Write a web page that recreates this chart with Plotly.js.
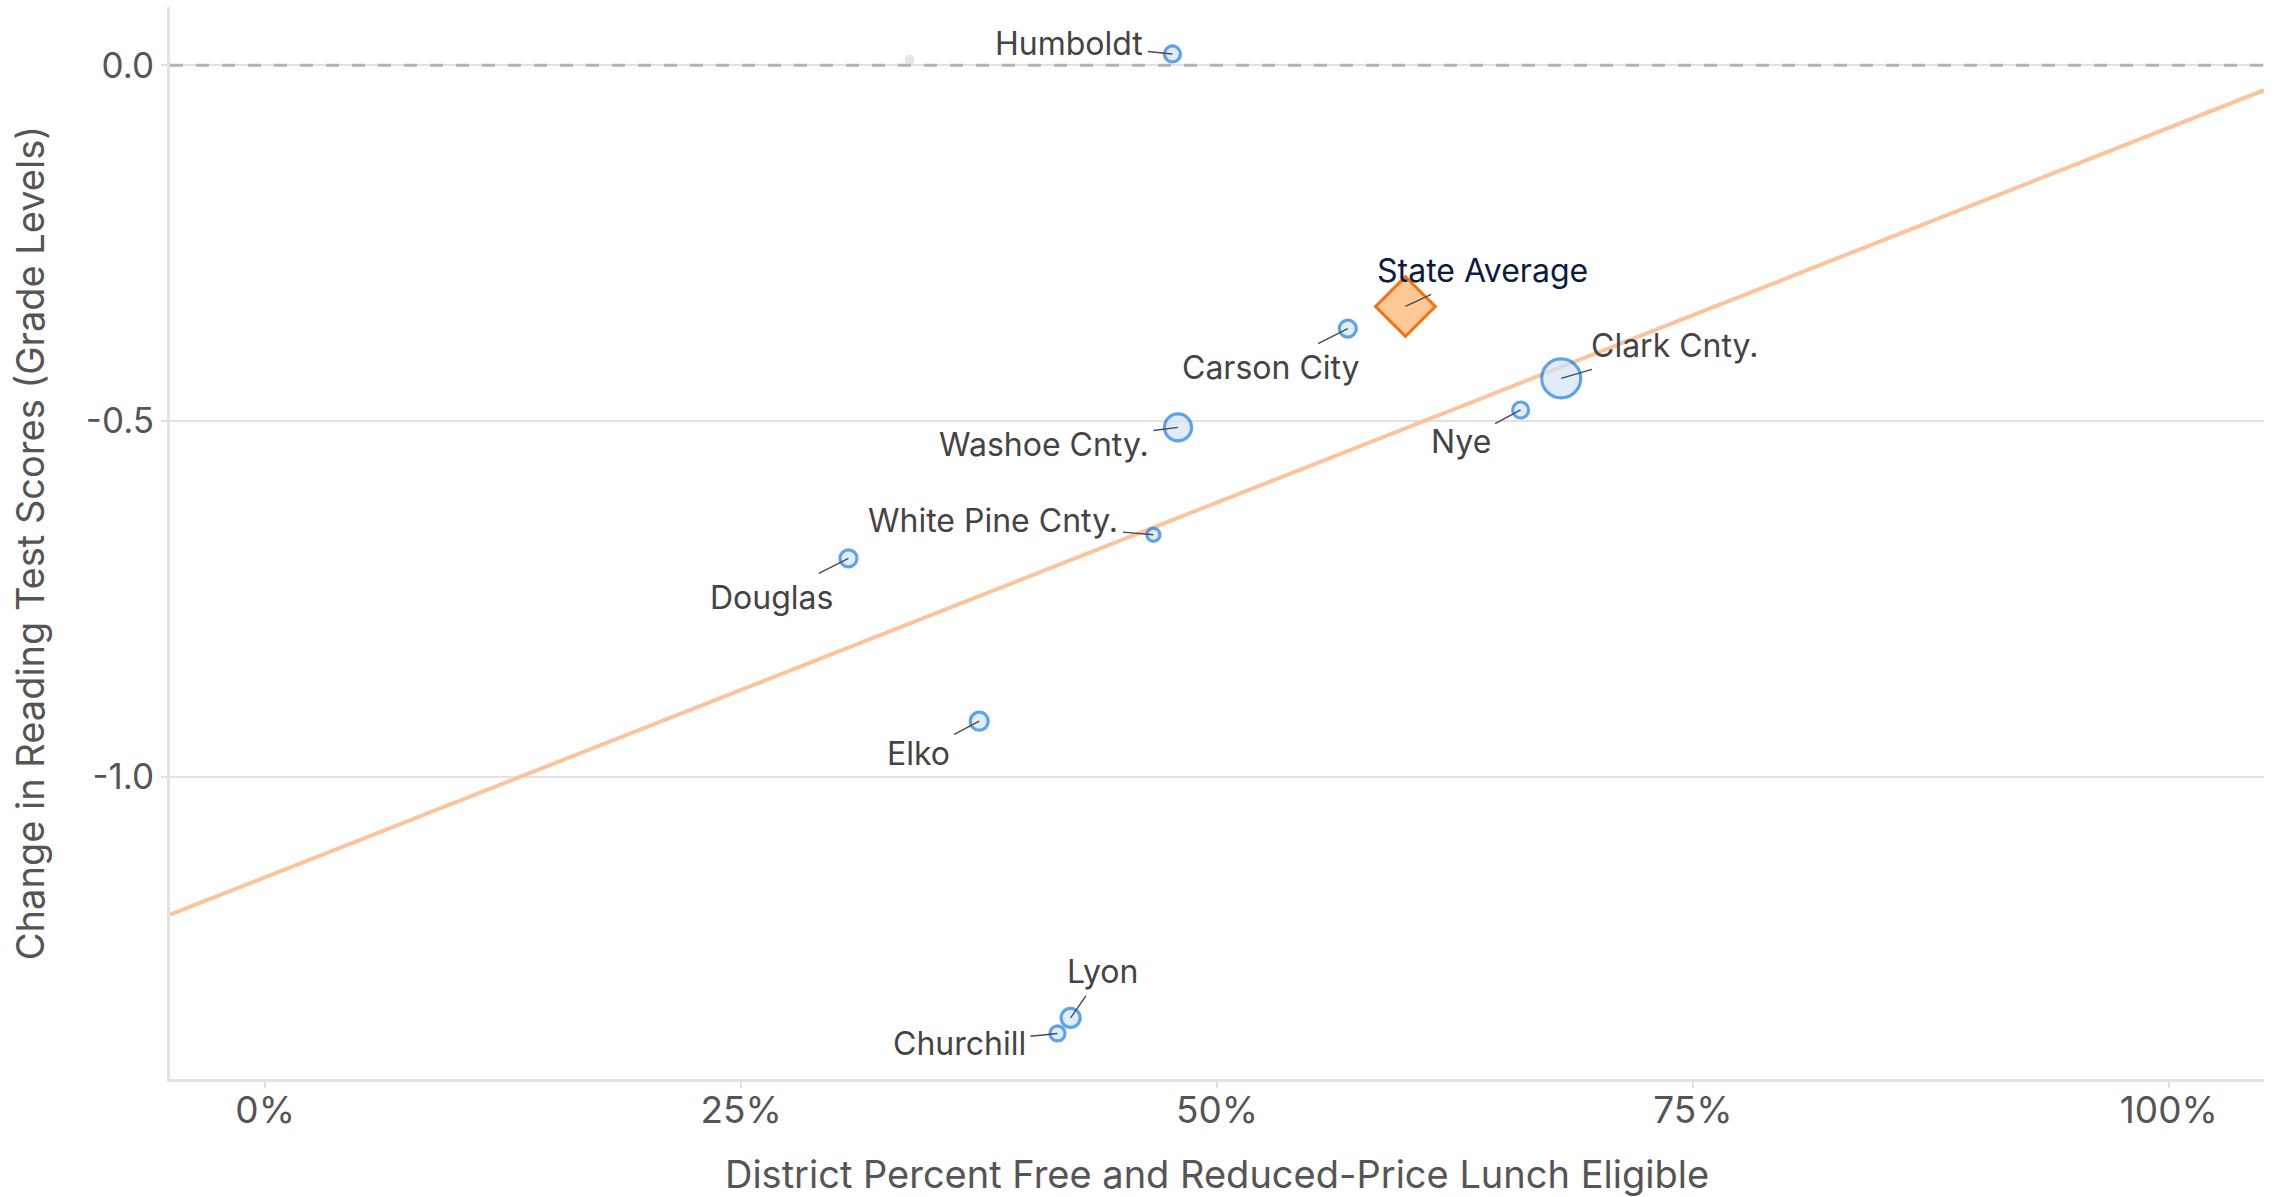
<!DOCTYPE html>
<html>
<head>
<meta charset="utf-8">
<script src="https://cdn.plot.ly/plotly-3.0.1.min.js"></script>
<style>
html,body{margin:0;padding:0;background:#fff;}
#chart{width:2276px;height:1197px;}
</style>
</head>
<body>
<div id="chart"></div>
<script>
// ---- data ----
const districts = ["Humboldt","Carson City","Clark Cnty.","Nye","Washoe Cnty.","White Pine Cnty.","Douglas","Elko","Lyon","Churchill"];
const frlShare  = [0.4766, 0.5687, 0.6808, 0.6595, 0.4795, 0.4666, 0.3064, 0.3751, 0.4231, 0.4162];
const readChange= [0.016, -0.370, -0.440, -0.4845, -0.509, -0.660, -0.693, -0.922, -1.339, -1.361];
const enrollSize= [16, 17, 39, 16, 27, 13, 17, 18, 19, 15];

const fadedX = [0.3385];
const fadedY = [0.008];

const stateLabel = ["State Average"];
const stateX = [0.599];
const stateY = [-0.339];

const trendX = [-0.05, 1.05];
const trendY = [-1.194, -0.035];

const xTickVals = [0, 0.25, 0.5, 0.75, 1];
const xTickText = ["0%","25%","50%","75%","100%"];
const yTickVals = [-1, -0.5, 0];
const yTickText = ["-1.0","-0.5","0.0"];

// label offsets (px) for annotation placement
const labelOffsets = {
  "Humboldt":[-103,-10], "Carson City":[-77,39], "Clark Cnty.":[113,-33], "Nye":[-60,32],
  "Washoe Cnty.":[-134,17], "White Pine Cnty.":[-160,-14], "Douglas":[-77,39],
  "Elko":[-61,32], "Lyon":[32,-46], "Churchill":[-98,10], "State Average":[77,-36]
};

const FONT = "Inter, 'Open Sans', sans-serif";

const traces = [
  {x: trendX, y: trendY, mode: "lines", type: "scatter",
   line: {color: "#fdc39a", width: 4}, hoverinfo: "skip", showlegend: false},
  {x: fadedX, y: fadedY, mode: "markers", type: "scatter",
   marker: {color: "#e2e6eb", size: 10, line: {width: 0}}, showlegend: false},
  {x: frlShare, y: readChange, text: districts, mode: "markers", type: "scatter",
   marker: {color: "#d4e5f7", size: enrollSize, line: {color: "#1b7de2", width: 3.2}},
   showlegend: false},
  {x: stateX, y: stateY, text: stateLabel, mode: "markers", type: "scatter",
   marker: {symbol: "diamond", color: "#fec897", size: 46, line: {color: "#f57114", width: 3}},
   showlegend: false}
];

const annotations = [];
districts.forEach((d, i) => {
  const o = labelOffsets[d];
  annotations.push({x: frlShare[i], y: readChange[i], xref: "x", yref: "y", text: d,
    showarrow: true, arrowhead: 0, arrowwidth: 1.4, arrowcolor: "#4a4a4a",
    ax: o[0], ay: o[1], standoff: 0, borderpad: 4,
    font: {family: FONT, size: 32, color: "#444"}});
});
stateLabel.forEach((d, i) => {
  const o = labelOffsets[d];
  annotations.push({x: stateX[i], y: stateY[i], xref: "x", yref: "y", text: d,
    showarrow: true, arrowhead: 0, arrowwidth: 1.4, arrowcolor: "#4a4a4a",
    ax: o[0], ay: o[1], standoff: 0, borderpad: 4,
    font: {family: FONT, size: 32, color: "#0d1b3e"}});
});

const layout = {
  width: 2276, height: 1197,
  paper_bgcolor: "#fff", plot_bgcolor: "#fff",
  margin: {l: 170, r: 12, t: 7, b: 118},
  font: {family: FONT, color: "#555"},
  showlegend: false,
  xaxis: {
    range: [-0.05, 1.05], tickvals: xTickVals, ticktext: xTickText,
    showgrid: false, zeroline: false, showline: true, linecolor: "#e3e3e3", linewidth: 3,
    ticks: "outside", ticklen: 6, tickwidth: 2, tickcolor: "#e0e0e0",
    ticklabelstandoff: -9,
    tickfont: {family: FONT, size: 37, color: "#555"},
    title: {text: "District Percent Free and Reduced-Price Lunch Eligible",
            font: {family: FONT, size: 38, color: "#555"}, standoff: 30}
  },
  yaxis: {
    range: [-1.425, 0.082], tickvals: yTickVals, ticktext: yTickText,
    showgrid: true, gridcolor: "#e2e2e2", gridwidth: 2,
    zeroline: false, showline: true, linecolor: "#e3e3e3", linewidth: 3,
    ticks: "outside", ticklen: 6, tickwidth: 2, tickcolor: "#e2e2e2",
    tickfont: {family: FONT, size: 35, color: "#555"},
    title: {text: "Change in Reading Test Scores (Grade Levels)",
            font: {family: FONT, size: 38, color: "#555"}, standoff: 30}
  },
  shapes: [
    {type: "line", xref: "paper", x0: 0, x1: 1, yref: "y", y0: 0, y1: 0,
     line: {color: "#b3b3b3", width: 3, dash: "13px,13px"}, layer: "above"}
  ],
  annotations: annotations
};

Plotly.newPlot("chart", traces, layout, {displayModeBar: false, staticPlot: true});
</script>
</body>
</html>
